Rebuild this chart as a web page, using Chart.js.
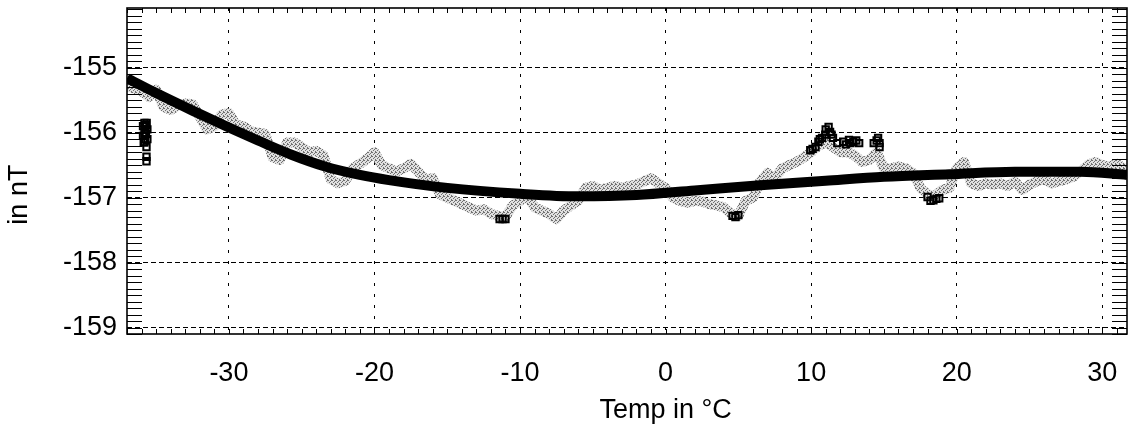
<!DOCTYPE html>
<html>
<head>
<meta charset="utf-8">
<script src="https://cdn.jsdelivr.net/npm/chart.js@4.4.1/dist/chart.umd.min.js"></script>
<style>
  html, body { margin: 0; padding: 0; background: #fff; overflow: hidden; }
  canvas { display: block; }
</style>
</head>
<body>
<canvas id="c" width="1128" height="428"></canvas>
<script>
// Axis ranges and major tick labels
const tempMin = -37;
const tempMax = 31.7;
const fieldMin = -159.1;
const fieldMax = -154.08;
const tempTicks = [-30, -20, -10, 0, 10, 20, 30];
const fieldTicks = [-159, -158, -157, -156, -155];

// Smooth temperature fit (thick black curve)
const fitTemp  = [-37, -35, -32.5, -30, -28, -25.7, -23.4, -21, -19, -15, -10, -6, -2, 2, 6.5, 11, 15, 19.5, 24, 28.5, 31.7];
const fitField = [-155.16, -155.39, -155.66, -155.92, -156.12, -156.34, -156.52, -156.65, -156.73, -156.85, -156.94, -156.98, -156.96, -156.89, -156.81, -156.74, -156.68, -156.64, -156.60, -156.60, -156.65];

// Measured field, sampled every 0.5 °C starting at -37 °C (grey trace)
const measStart = -37;
const measStep = 0.5;
const measField = [
  -155.28, -155.32, -155.36, -155.45, -155.34, -155.60, -155.65, -155.58, -155.55, -155.56,
  -155.75, -155.95, -155.90, -155.72, -155.70, -155.88, -155.90, -155.98, -156.00, -156.02,
  -156.38, -156.42, -156.15, -156.15, -156.22, -156.30, -156.28, -156.35, -156.72, -156.78,
  -156.74, -156.55, -156.48, -156.40, -156.30, -156.50, -156.55, -156.60, -156.55, -156.48,
  -156.60, -156.72, -156.70, -156.95, -157.00, -157.05, -157.10, -157.15, -157.20, -157.18,
  -157.25, -157.28, -157.30, -157.12, -157.05, -156.98, -157.15, -157.20, -157.25, -157.33,
  -157.20, -157.12, -157.05, -156.85, -156.82, -156.88, -156.85, -156.82, -156.85, -156.82,
  -156.80, -156.75, -156.70, -156.78, -156.85, -157.00, -157.05, -157.08, -157.05, -157.06,
  -157.10, -157.12, -157.15, -157.25, -157.28, -157.05, -157.00, -156.75, -156.62, -156.70,
  -156.55, -156.50, -156.45, -156.38, -156.30, -156.20, -156.15, -156.22, -156.30, -156.30,
  -156.35, -156.45, -156.42, -156.30, -156.55, -156.55, -156.52, -156.55, -156.62, -156.85,
  -156.95, -156.98, -156.88, -156.85, -156.55, -156.45, -156.78, -156.82, -156.78, -156.80,
  -156.78, -156.82, -156.75, -156.88, -156.80, -156.75, -156.72, -156.78, -156.75, -156.72,
  -156.68, -156.60, -156.50, -156.45, -156.50, -156.52, -156.48, -156.55
];

// Flagged samples (open squares)
const flagTemp  = [-35.8, -35.75, -35.8, -35.75, -35.8, -35.75, -35.8, -35.7, -35.7, -35.9, -35.6, -35.9, -35.6, -35.85, -35.65,
                   -35.66, -35.66, -35.66,
                   -11.4, -11.2, -11.0,
                   4.6, 4.8, 5.0,
                   9.94, 10.1, 10.3, 10.5, 10.6, 10.75, 10.97, 11.0, 11.2, 11.3, 11.4, 11.5, 11.8,
                   12.2, 12.4, 12.6, 12.7, 12.9, 13.1, 13.3, 14.3, 14.5, 14.6, 14.7, 14.7,
                   18.0, 18.2, 18.4, 18.6, 18.8];
const flagField = [-155.85, -155.90, -155.95, -156.00, -156.05, -156.10, -156.15, -155.88, -156.02, -155.90, -155.95, -156.05, -156.10, -156.15, -155.85,
                   -156.22, -156.37, -156.44,
                   -157.33, -157.33, -157.33,
                   -157.28, -157.30, -157.27,
                   -156.27, -156.25, -156.22, -156.14, -156.10, -156.08, -156.03, -155.95, -155.91, -155.99, -156.03, -156.08, -156.16,
                   -156.14, -156.18, -156.11, -156.16, -156.14, -156.12, -156.16, -156.16, -156.12, -156.08, -156.16, -156.22,
                   -156.99, -157.05, -157.04, -157.02, -157.01];

const fitPoints = fitTemp.map((t, i) => ({ x: t, y: fitField[i] }));
const measPoints = measField.map((v, i) => ({ x: measStart + i * measStep, y: v }));
const flagPoints = flagTemp.map((t, i) => ({ x: t, y: flagField[i] }));

// Stippled grey for the measured trace
function stipple() {
  const pc = document.createElement('canvas');
  pc.width = 4; pc.height = 4;
  const g = pc.getContext('2d');
  g.fillStyle = '#e0e0e0';
  g.fillRect(0, 0, 4, 4);
  g.fillStyle = '#707070';
  [[0, 0], [2, 1], [1, 2], [3, 3], [3, 0]].forEach(([px, py]) => g.fillRect(px, py, 1, 1));
  return g.createPattern(pc, 'repeat');
}
const ctx = document.getElementById('c').getContext('2d');
const grey = stipple();

const FONT = '"Liberation Sans", Arial, Helvetica, sans-serif';

// Frame, minor ticks and axis titles
const framePlugin = {
  id: 'frame',
  afterDraw(chart) {
    const { ctx, chartArea: a, scales: { x, y } } = chart;
    ctx.save();
    ctx.strokeStyle = '#000';
    ctx.lineWidth = 1;
    ctx.beginPath();
    for (let v = Math.ceil(fieldMin * 10) / 10; v <= fieldMax + 1e-9; v = Math.round((v + 0.1) * 10) / 10) {
      const py = Math.round(y.getPixelForValue(v)) + 0.5;
      ctx.moveTo(a.left, py); ctx.lineTo(a.left + 15, py);
      ctx.moveTo(a.right, py); ctx.lineTo(a.right - 15, py);
    }
    for (let t = Math.ceil(tempMin); t <= tempMax; t += 1) {
      const px = Math.round(x.getPixelForValue(t)) + 0.5;
      ctx.moveTo(px, a.bottom); ctx.lineTo(px, a.bottom - 5);
      ctx.moveTo(px, a.top); ctx.lineTo(px, a.top + 5);
    }
    ctx.stroke();
    ctx.lineWidth = 1.6;
    ctx.strokeRect(a.left, a.top, a.right - a.left, a.bottom - a.top);

    ctx.fillStyle = '#000';
    ctx.font = '27px ' + FONT;
    ctx.textAlign = 'center';
    ctx.textBaseline = 'middle';
    ctx.fillText('Temp in °C', x.getPixelForValue(0), 411);
    ctx.translate(20, y.getPixelForValue(-157) - 3);
    ctx.rotate(-Math.PI / 2);
    ctx.fillText('in nT', 0, 0);
    ctx.restore();
  }
};

new Chart(ctx, {
  type: 'line',
  data: {
    datasets: [
      {
        label: 'flagged',
        data: flagPoints,
        showLine: false,
        pointStyle: 'rect',
        pointRadius: 4.5,
        pointBorderWidth: 2,
        pointBorderColor: '#000',
        pointBackgroundColor: 'rgba(0,0,0,0)',
        order: 0
      },
      {
        label: 'fit',
        data: fitPoints,
        borderColor: '#000',
        borderWidth: 10,
        pointRadius: 0,
        cubicInterpolationMode: 'monotone',
        fill: false,
        order: 1
      },
      {
        label: 'measured',
        data: measPoints,
        borderColor: grey,
        borderWidth: 10,
        borderJoinStyle: 'round',
        borderCapStyle: 'round',
        pointRadius: 0,
        tension: 0,
        fill: false,
        order: 2
      }
    ]
  },
  options: {
    responsive: false,
    animation: false,
    layout: { autoPadding: false, padding: { top: 8, right: 1, left: 0, bottom: 0 } },
    plugins: { legend: { display: false }, tooltip: { enabled: false } },
    scales: {
      x: {
        type: 'linear',
        min: tempMin,
        max: tempMax,
        afterFit: s => { s.height = 94; s.paddingLeft = 0; s.paddingRight = 0; },
        afterBuildTicks: s => { s.ticks = tempTicks.map(v => ({ value: v })); },
        ticks: { color: '#000', font: { family: FONT, size: 27 }, padding: 23, maxRotation: 0 },
        grid: { color: '#000', lineWidth: 1, drawTicks: false },
        border: { display: false, dash: [3, 8] }
      },
      y: {
        type: 'linear',
        min: fieldMin,
        max: fieldMax,
        afterFit: s => { s.width = 127; s.paddingTop = 0; s.paddingBottom = 0; },
        afterBuildTicks: s => { s.ticks = fieldTicks.map(v => ({ value: v })); },
        ticks: { color: '#000', font: { family: FONT, size: 27 }, padding: 10 },
        grid: { color: '#000', lineWidth: 1, drawTicks: false },
        border: { display: false, dash: [5, 3] }
      }
    }
  },
  plugins: [framePlugin]
});
</script>
</body>
</html>
